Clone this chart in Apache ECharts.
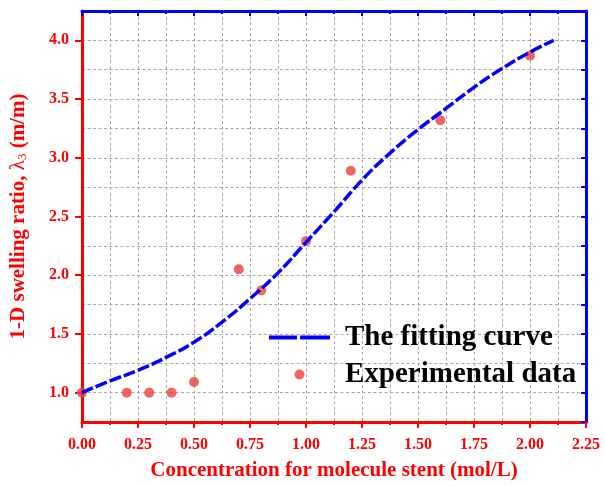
<!DOCTYPE html>
<html>
<head>
<meta charset="utf-8">
<script src="https://cdn.jsdelivr.net/npm/echarts@6/dist/echarts.min.js"></script>
<style>
  html, body { margin: 0; padding: 0; background: #fff; }
  #chart { width: 605px; height: 486px; }
</style>
</head>
<body>
<div id="chart"></div>
<script>
// Experimental swelling measurements
const expX = [0, 0.2, 0.3, 0.4, 0.5, 0.7, 0.8, 1.0, 1.2, 1.6, 2.0];
const expY = [1.0, 1.0, 1.0, 1.0, 1.09, 2.05, 1.87, 2.29, 2.89, 3.32, 3.87];

// Fitted curve samples
const fitX = [0, 0.125, 0.25, 0.375, 0.5, 0.625, 0.75, 0.875, 1.0, 1.125, 1.25, 1.375, 1.5, 1.625, 1.75, 1.875, 2.0, 2.106];
const fitY = [1.00, 1.10, 1.19, 1.30, 1.43, 1.60, 1.80, 2.02, 2.28, 2.54, 2.81, 3.04, 3.24, 3.42, 3.60, 3.76, 3.90, 4.00];

// Labelled ticks on the left axis
const yTickValues = [1.0, 1.5, 2.0, 2.5, 3.0, 3.5, 4.0];

const RED = '#ff0000';
const BLUE = '#0000ff';
const SERIF = '"Liberation Serif", "Times New Roman", serif';
const GRID = { color: '#a8a8a8', width: 1, type: [3, 2.5] };

const chart = echarts.init(document.getElementById('chart'), null, { renderer: 'canvas' });

chart.setOption({
  animation: false,
  backgroundColor: '#fff',
  grid: { left: 76, right: 19, top: 11, bottom: 63, containLabel: false },
  legend: {
    orient: 'vertical',
    left: 264,
    top: 316,
    itemWidth: 61,
    itemHeight: 10,
    itemGap: 4,
    data: [
      // dashed bar with a short gap, as the curve is drawn
      { name: 'The fitting curve', icon: 'path://M0,0h28v4h-28zM31,0h30v4h-30z', itemStyle: { color: BLUE } },
      { name: 'Experimental data', icon: 'circle' }
    ],
    textStyle: {
      fontFamily: SERIF, fontWeight: 'bold', fontSize: 29, color: '#000',
      padding: [0, 0, 0, 10], lineHeight: 33
    }
  },
  xAxis: [
    {
      type: 'value', position: 'bottom', min: 0, max: 2.25, interval: 0.25,
      axisLine: { show: true, onZero: false, lineStyle: { color: RED, width: 3 } },
      axisTick: { show: true, inside: false, length: 6, lineStyle: { color: RED, width: 2 } },
      minorTick: { show: true, splitNumber: 2, length: 3, lineStyle: { color: RED, width: 2 } },
      splitLine: { show: true, lineStyle: GRID },
      minorSplitLine: { show: true, lineStyle: GRID },
      axisLabel: {
        color: RED, fontFamily: SERIF, fontWeight: 'bold', fontSize: 16, margin: 15,
        formatter: v => v.toFixed(2)
      },
      name: 'Concentration for molecule stent (mol/L)',
      nameLocation: 'middle', nameGap: 38,
      nameTextStyle: { color: RED, fontFamily: SERIF, fontWeight: 'bold', fontSize: 21 }
    },
    {
      type: 'value', position: 'top', min: 0, max: 2.25, interval: 0.25,
      axisLine: { show: true, onZero: false, lineStyle: { color: BLUE, width: 3 } },
      axisTick: { show: true, inside: true, length: 5, lineStyle: { color: BLUE, width: 2 } },
      minorTick: { show: true, splitNumber: 2, length: 3, lineStyle: { color: BLUE, width: 2 } },
      splitLine: { show: false },
      axisLabel: { show: false }
    }
  ],
  yAxis: [
    {
      type: 'value', position: 'left', min: 0.75, max: 4.25,
      axisLine: { show: true, onZero: false, lineStyle: { color: RED, width: 3 } },
      axisTick: { show: true, inside: false, length: 7, customValues: yTickValues, lineStyle: { color: RED, width: 2 } },
      splitLine: { show: false },
      axisLabel: {
        customValues: yTickValues,
        color: RED, fontFamily: SERIF, fontWeight: 'bold', fontSize: 16, margin: 13,
        formatter: v => v.toFixed(1)
      },
      name: '{t|1-D swelling ratio, }{g|λ}{s|3}{t| (m/m)}',
      nameLocation: 'middle', nameGap: 53, nameRotate: 90,
      nameTextStyle: {
        color: RED,
        rich: {
          t: { color: RED, fontFamily: SERIF, fontWeight: 'bold', fontSize: 21 },
          g: { color: RED, fontFamily: SERIF, fontWeight: 'normal', fontSize: 21 },
          s: { color: RED, fontFamily: SERIF, fontWeight: 'normal', fontSize: 13, verticalAlign: 'bottom', padding: [8, 0, 0, 0] }
        }
      }
    },
    {
      type: 'value', position: 'right', min: 0.75, max: 4.25, interval: 0.25,
      axisLine: { show: true, onZero: false, lineStyle: { color: BLUE, width: 3 } },
      axisTick: { show: true, inside: true, length: 5, lineStyle: { color: BLUE, width: 2 } },
      splitLine: { show: true, lineStyle: GRID },
      axisLabel: { show: false }
    }
  ],
  series: [
    {
      name: 'Experimental data',
      type: 'scatter',
      xAxisIndex: 0, yAxisIndex: 0,
      symbol: 'circle', symbolSize: 10,
      itemStyle: { color: '#e8403d' },
      z: 3,
      data: expX.map((x, i) => [x, expY[i]])
    },
    {
      name: 'The fitting curve',
      type: 'line',
      xAxisIndex: 0, yAxisIndex: 0,
      smooth: true,
      symbol: 'none',
      lineStyle: { color: BLUE, width: 3.5, type: [12, 3] },
      itemStyle: { color: BLUE },
      z: 4,
      data: fitX.map((x, i) => [x, fitY[i]])
    }
  ]
});
</script>
</body>
</html>
